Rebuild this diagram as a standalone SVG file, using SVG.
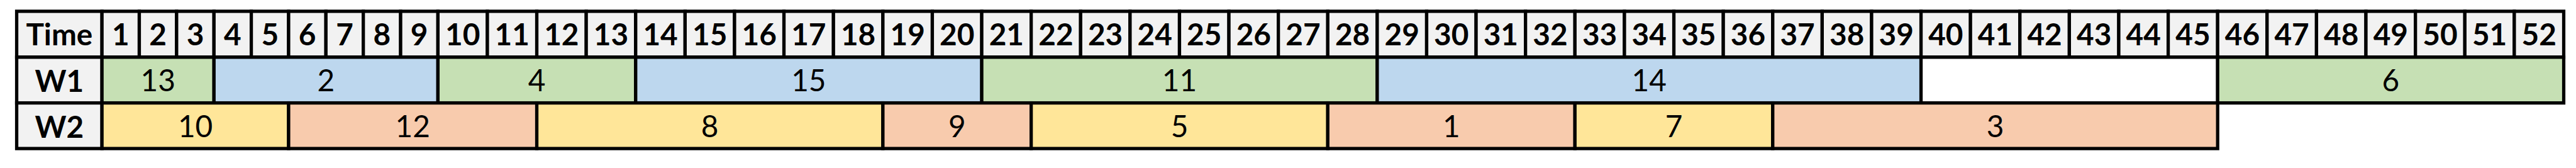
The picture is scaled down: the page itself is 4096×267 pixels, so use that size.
<svg xmlns="http://www.w3.org/2000/svg" width="4096" height="267" viewBox="0 0 4096 267">
<style>
.c{stroke:#000;stroke-width:5.5}
.h{fill:#F2F2F2}
.g{fill:#C6E0B4}
.b{fill:#BDD7EE}
.y{fill:#FFE699}
.o{fill:#F8CBAD}
.w{fill:#FFFFFF}
text{font-family:Lato,"Open Sans","Liberation Sans",sans-serif;font-size:50px;text-anchor:middle;fill:#000}
.bd{font-weight:bold}
</style>
<rect width="4096" height="267" fill="#FFFFFF"/>
<g transform="scale(0.9539)">
<g id="header" class="bd">
<g id="h-time"><rect class="c h" x="27.8" y="18.8" width="142.2" height="76.5"/><text x="98.9" y="76">Time</text></g>
<g id="h1"><rect class="c h" x="170" y="18.8" width="62.2" height="76.5"/><text x="201.1" y="76">1</text></g>
<g id="h2"><rect class="c h" x="232.2" y="18.8" width="62.2" height="76.5"/><text x="263.3" y="76">2</text></g>
<g id="h3"><rect class="c h" x="294.4" y="18.8" width="62.3" height="76.5"/><text x="325.6" y="76">3</text></g>
<g id="h4"><rect class="c h" x="356.7" y="18.8" width="62.2" height="76.5"/><text x="387.8" y="76">4</text></g>
<g id="h5"><rect class="c h" x="418.9" y="18.8" width="62.2" height="76.5"/><text x="450" y="76">5</text></g>
<g id="h6"><rect class="c h" x="481.1" y="18.8" width="62.2" height="76.5"/><text x="512.2" y="76">6</text></g>
<g id="h7"><rect class="c h" x="543.3" y="18.8" width="62.3" height="76.5"/><text x="574.5" y="76">7</text></g>
<g id="h8"><rect class="c h" x="605.6" y="18.8" width="62.2" height="76.5"/><text x="636.7" y="76">8</text></g>
<g id="h9"><rect class="c h" x="667.8" y="18.8" width="62.2" height="76.5"/><text x="698.9" y="76">9</text></g>
<g id="h10"><rect class="c h" x="730" y="18.8" width="82.4" height="76.5"/><text x="771.2" y="76">10</text></g>
<g id="h11"><rect class="c h" x="812.4" y="18.8" width="82.4" height="76.5"/><text x="853.6" y="76">11</text></g>
<g id="h12"><rect class="c h" x="894.8" y="18.8" width="82.4" height="76.5"/><text x="936" y="76">12</text></g>
<g id="h13"><rect class="c h" x="977.2" y="18.8" width="82.4" height="76.5"/><text x="1018.4" y="76">13</text></g>
<g id="h14"><rect class="c h" x="1059.6" y="18.8" width="82.4" height="76.5"/><text x="1100.8" y="76">14</text></g>
<g id="h15"><rect class="c h" x="1142" y="18.8" width="82.4" height="76.5"/><text x="1183.2" y="76">15</text></g>
<g id="h16"><rect class="c h" x="1224.4" y="18.8" width="82.4" height="76.5"/><text x="1265.6" y="76">16</text></g>
<g id="h17"><rect class="c h" x="1306.8" y="18.8" width="82.5" height="76.5"/><text x="1348" y="76">17</text></g>
<g id="h18"><rect class="c h" x="1389.3" y="18.8" width="82.4" height="76.5"/><text x="1430.5" y="76">18</text></g>
<g id="h19"><rect class="c h" x="1471.7" y="18.8" width="82.4" height="76.5"/><text x="1512.9" y="76">19</text></g>
<g id="h20"><rect class="c h" x="1554.1" y="18.8" width="82.4" height="76.5"/><text x="1595.3" y="76">20</text></g>
<g id="h21"><rect class="c h" x="1636.5" y="18.8" width="82.4" height="76.5"/><text x="1677.7" y="76">21</text></g>
<g id="h22"><rect class="c h" x="1718.9" y="18.8" width="82.4" height="76.5"/><text x="1760.1" y="76">22</text></g>
<g id="h23"><rect class="c h" x="1801.3" y="18.8" width="82.4" height="76.5"/><text x="1842.5" y="76">23</text></g>
<g id="h24"><rect class="c h" x="1883.7" y="18.8" width="82.4" height="76.5"/><text x="1924.9" y="76">24</text></g>
<g id="h25"><rect class="c h" x="1966.1" y="18.8" width="82.4" height="76.5"/><text x="2007.3" y="76">25</text></g>
<g id="h26"><rect class="c h" x="2048.5" y="18.8" width="82.4" height="76.5"/><text x="2089.7" y="76">26</text></g>
<g id="h27"><rect class="c h" x="2130.9" y="18.8" width="82.4" height="76.5"/><text x="2172.1" y="76">27</text></g>
<g id="h28"><rect class="c h" x="2213.3" y="18.8" width="82.4" height="76.5"/><text x="2254.5" y="76">28</text></g>
<g id="h29"><rect class="c h" x="2295.7" y="18.8" width="82.4" height="76.5"/><text x="2336.9" y="76">29</text></g>
<g id="h30"><rect class="c h" x="2378.1" y="18.8" width="82.4" height="76.5"/><text x="2419.3" y="76">30</text></g>
<g id="h31"><rect class="c h" x="2460.5" y="18.8" width="82.4" height="76.5"/><text x="2501.7" y="76">31</text></g>
<g id="h32"><rect class="c h" x="2542.9" y="18.8" width="82.4" height="76.5"/><text x="2584.1" y="76">32</text></g>
<g id="h33"><rect class="c h" x="2625.3" y="18.8" width="82.5" height="76.5"/><text x="2666.5" y="76">33</text></g>
<g id="h34"><rect class="c h" x="2707.8" y="18.8" width="82.4" height="76.5"/><text x="2749" y="76">34</text></g>
<g id="h35"><rect class="c h" x="2790.2" y="18.8" width="82.4" height="76.5"/><text x="2831.4" y="76">35</text></g>
<g id="h36"><rect class="c h" x="2872.6" y="18.8" width="82.4" height="76.5"/><text x="2913.8" y="76">36</text></g>
<g id="h37"><rect class="c h" x="2955" y="18.8" width="82.4" height="76.5"/><text x="2996.2" y="76">37</text></g>
<g id="h38"><rect class="c h" x="3037.4" y="18.8" width="82.4" height="76.5"/><text x="3078.6" y="76">38</text></g>
<g id="h39"><rect class="c h" x="3119.8" y="18.8" width="82.4" height="76.5"/><text x="3161" y="76">39</text></g>
<g id="h40"><rect class="c h" x="3202.2" y="18.8" width="82.4" height="76.5"/><text x="3243.4" y="76">40</text></g>
<g id="h41"><rect class="c h" x="3284.6" y="18.8" width="82.4" height="76.5"/><text x="3325.8" y="76">41</text></g>
<g id="h42"><rect class="c h" x="3367" y="18.8" width="82.4" height="76.5"/><text x="3408.2" y="76">42</text></g>
<g id="h43"><rect class="c h" x="3449.4" y="18.8" width="82.4" height="76.5"/><text x="3490.6" y="76">43</text></g>
<g id="h44"><rect class="c h" x="3531.8" y="18.8" width="82.4" height="76.5"/><text x="3573" y="76">44</text></g>
<g id="h45"><rect class="c h" x="3614.2" y="18.8" width="82.4" height="76.5"/><text x="3655.4" y="76">45</text></g>
<g id="h46"><rect class="c h" x="3696.6" y="18.8" width="82.4" height="76.5"/><text x="3737.8" y="76">46</text></g>
<g id="h47"><rect class="c h" x="3779" y="18.8" width="82.4" height="76.5"/><text x="3820.2" y="76">47</text></g>
<g id="h48"><rect class="c h" x="3861.4" y="18.8" width="82.4" height="76.5"/><text x="3902.6" y="76">48</text></g>
<g id="h49"><rect class="c h" x="3943.8" y="18.8" width="82.5" height="76.5"/><text x="3985" y="76">49</text></g>
<g id="h50"><rect class="c h" x="4026.3" y="18.8" width="82.4" height="76.5"/><text x="4067.5" y="76">50</text></g>
<g id="h51"><rect class="c h" x="4108.7" y="18.8" width="82.4" height="76.5"/><text x="4149.9" y="76">51</text></g>
<g id="h52"><rect class="c h" x="4191.1" y="18.8" width="82.4" height="76.5"/><text x="4232.3" y="76">52</text></g>
</g>
<g id="row-w1">
<g id="w1-label" class="bd"><rect class="c h" x="27.8" y="95.3" width="142.2" height="76.2"/><text x="98.9" y="153">W1</text></g>
<g id="w1-t13"><rect class="c g" x="170" y="95.3" width="186.7" height="76.2"/><text x="263.3" y="152">13</text></g>
<g id="w1-t2"><rect class="c b" x="356.7" y="95.3" width="373.3" height="76.2"/><text x="543.3" y="152">2</text></g>
<g id="w1-t4"><rect class="c g" x="730" y="95.3" width="329.6" height="76.2"/><text x="894.8" y="152">4</text></g>
<g id="w1-t15"><rect class="c b" x="1059.6" y="95.3" width="576.9" height="76.2"/><text x="1348" y="152">15</text></g>
<g id="w1-t11"><rect class="c g" x="1636.5" y="95.3" width="659.2" height="76.2"/><text x="1966.1" y="152">11</text></g>
<g id="w1-t14"><rect class="c b" x="2295.7" y="95.3" width="906.5" height="76.2"/><text x="2748.9" y="152">14</text></g>
<g id="w1-idle"><rect class="c w" x="3202.2" y="95.3" width="494.4" height="76.2"/></g>
<g id="w1-t6"><rect class="c g" x="3696.6" y="95.3" width="576.9" height="76.2"/><text x="3985" y="152">6</text></g>
</g>
<g id="row-w2">
<g id="w2-label" class="bd"><rect class="c h" x="27.8" y="171.5" width="142.2" height="76"/><text x="98.9" y="229.5">W2</text></g>
<g id="w2-t10"><rect class="c y" x="170" y="171.5" width="311.1" height="76"/><text x="325.6" y="228.5">10</text></g>
<g id="w2-t12"><rect class="c o" x="481.1" y="171.5" width="413.7" height="76"/><text x="687.9" y="228.5">12</text></g>
<g id="w2-t8"><rect class="c y" x="894.8" y="171.5" width="576.9" height="76"/><text x="1183.2" y="228.5">8</text></g>
<g id="w2-t9"><rect class="c o" x="1471.7" y="171.5" width="247.2" height="76"/><text x="1595.3" y="228.5">9</text></g>
<g id="w2-t5"><rect class="c y" x="1718.9" y="171.5" width="494.4" height="76"/><text x="1966.1" y="228.5">5</text></g>
<g id="w2-t1"><rect class="c o" x="2213.3" y="171.5" width="412" height="76"/><text x="2419.3" y="228.5">1</text></g>
<g id="w2-t7"><rect class="c y" x="2625.3" y="171.5" width="329.7" height="76"/><text x="2790.2" y="228.5">7</text></g>
<g id="w2-t3"><rect class="c o" x="2955" y="171.5" width="741.6" height="76"/><text x="3325.8" y="228.5">3</text></g>
</g>
<g id="connectors"/>
</g>
</svg>
